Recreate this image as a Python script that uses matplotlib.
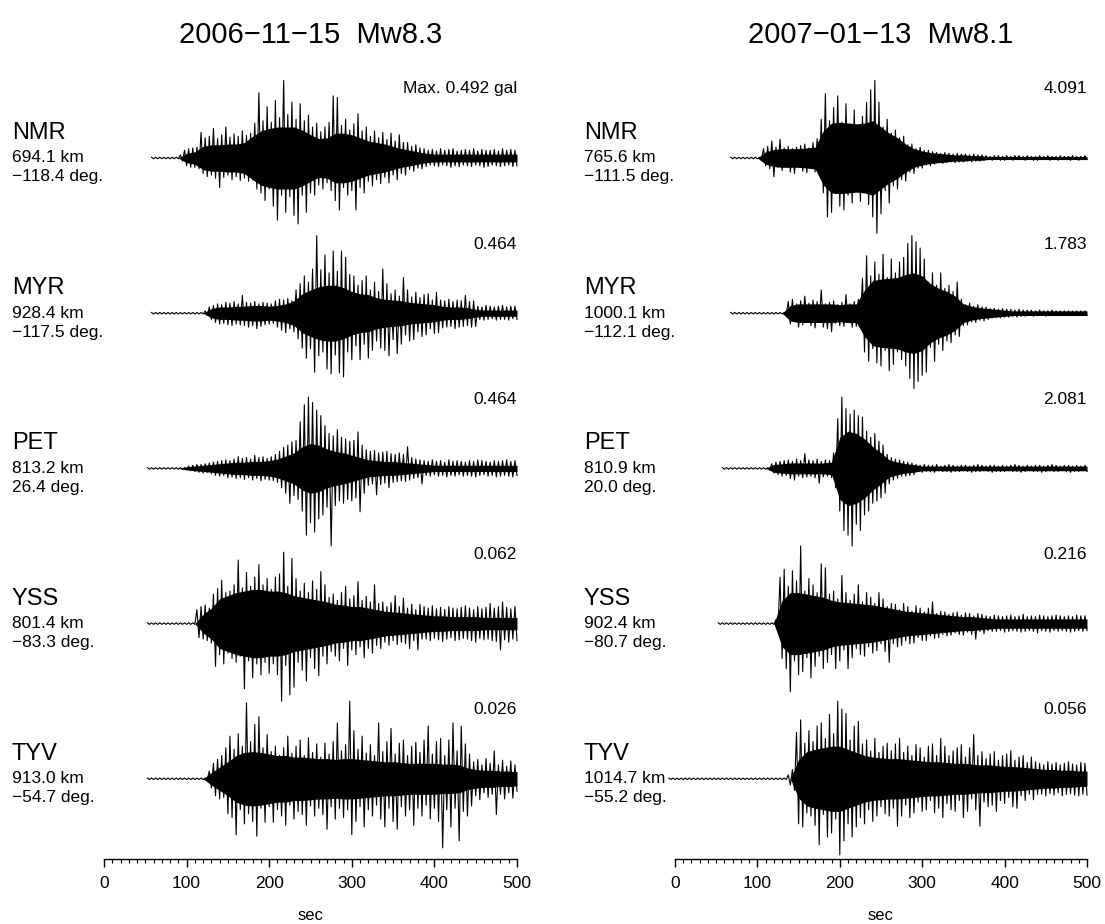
import numpy as np
import matplotlib
matplotlib.use("Agg")
import matplotlib.pyplot as plt

plt.rcParams['font.family'] = ['Liberation Sans', 'DejaVu Sans']

# ---------------------------------------------------------------------------
# Events and stations
# ---------------------------------------------------------------------------
event_titles = ["2006\u221211\u221215  Mw8.3", "2007\u221201\u221213  Mw8.1"]
stations = ["NMR", "MYR", "PET", "YSS", "TYV"]

dist_2006 = ["694.1 km", "928.4 km", "813.2 km", "801.4 km", "913.0 km"]
azim_2006 = ["\u2212118.4 deg.", "\u2212117.5 deg.", "26.4 deg.", "\u221283.3 deg.", "\u221254.7 deg."]
peak_2006 = [0.492, 0.464, 0.464, 0.062, 0.026]          # gal
start_2006 = [57.5, 57.5, 52.5, 52.5, 52.5]               # s, first sample

dist_2007 = ["765.6 km", "1000.1 km", "810.9 km", "902.4 km", "1014.7 km"]
azim_2007 = ["\u2212111.5 deg.", "\u2212112.1 deg.", "20.0 deg.", "\u221280.7 deg.", "\u221255.2 deg."]
peak_2007 = [4.091, 1.783, 2.081, 0.216, 0.056]           # gal
start_2007 = [67.5, 67.5, 57.5, 52.5, -7.5]

# Peak amplitudes (percent of station maximum) every 5 s:
# positive swings at t0 + 5 i, negative swings at t0 + 5 i + 2.5
nmr06_up = [1, 1, 1, 1, 1, 1, 1, 4, 10, 12, 13, 14,
            33, 26, 28, 38, 25, 30, 40, 27, 31, 28, 35, 29, 32,
            45, 84, 48, 66, 46, 74, 52, 100, 56, 72, 50, 70, 48, 55, 40, 45, 34, 40, 46, 80,
            78, 42, 50, 36, 44, 57, 35, 40, 28, 35, 26, 33, 24, 32, 22, 30, 20, 20, 15, 17, 13,
            12, 10, 11, 9, 12, 10, 11, 12, 9, 10, 11, 10, 12, 9, 11, 10, 10, 11, 9, 12, 10, 11, 10]
nmr06_dn = [1, 1, 1, 1, 1, 1, 1, 4, 10, 12, 12, 14,
            20, 24, 22, 26, 38, 25, 22, 28, 24, 29, 26, 30, 28,
            40, 45, 55, 40, 62, 80, 48, 70, 50, 74, 85, 48, 70, 45, 48, 35, 40, 32, 42, 55,
            67, 38, 48, 42, 67, 38, 45, 30, 36, 28, 33, 25, 32, 22, 28, 20, 22, 15, 17, 13, 14,
            11, 9, 10, 11, 9, 10, 12, 10, 11, 9, 10, 11, 9, 10, 12, 11, 9, 10, 11, 10, 9, 11, 10]

myr06_up = [1, 1, 1, 1, 1, 1, 1, 1, 1, 1, 1, 1, 1, 3, 8,
            10, 12, 11, 14, 13, 15, 12, 23, 14, 13, 15, 12, 14, 13, 12, 16, 18, 17, 19, 16,
            30, 38, 48, 40, 57, 100, 56, 75, 52, 80, 54, 80, 72, 50, 48, 36, 42, 48, 30, 40,
            28, 57, 38, 25, 30, 22, 46, 30, 21, 27, 20, 24, 25, 17, 27,
            17, 16, 18, 15, 17, 16, 23, 15, 16, 9, 8, 10, 9, 8, 9, 10, 8, 9, 9]
myr06_dn = [1, 1, 1, 1, 1, 1, 1, 1, 1, 1, 1, 1, 1, 3, 8,
            12, 14, 13, 15, 16, 14, 15, 16, 18, 16, 20, 17, 15, 14, 13, 18, 22, 25, 20, 24,
            33, 45, 58, 46, 76, 55, 50, 72, 78, 54, 77, 82, 50, 60, 42, 60, 40, 58, 48, 36,
            45, 48, 55, 34, 52, 40, 28, 36, 34, 24, 30, 28, 20, 26, 25,
            19, 18, 17, 20, 18, 17, 16, 18, 17, 8, 9, 8, 7, 9, 8, 8, 9, 7, 8]

pet06_up = [1, 1, 1, 1, 1, 1, 1, 1, 1, 1, 3, 4, 5, 5, 6, 7, 8, 9, 10, 11, 10, 12, 15,
            13, 14, 12, 17, 14, 15, 13,
            15, 18, 22, 27, 30, 34, 36, 60, 82, 92, 85, 75, 68, 55, 45, 42, 50, 40, 38, 35,
            36, 47, 30, 24, 22, 23, 20, 21, 22, 19, 18, 20, 18, 28, 14, 12, 11,
            10, 9, 11, 9, 10, 8, 11, 9, 10, 9, 8, 10, 9, 11, 10, 9, 8, 10, 9, 10, 11, 9, 10]
pet06_dn = [1, 1, 1, 1, 1, 1, 1, 1, 1, 1, 3, 4, 5, 6, 5, 7, 9, 10, 9, 12, 11, 13, 12,
            14, 12, 15, 13, 16, 14, 15,
            16, 18, 25, 32, 45, 35, 40, 55, 86, 70, 82, 65, 60, 50, 100, 48, 42, 45, 40, 42,
            38, 56, 32, 22, 20, 34, 21, 19, 25, 18, 17, 16, 17, 15, 13, 12, 20,
            9, 10, 8, 10, 9, 11, 9, 10, 8, 10, 9, 10, 11, 9, 8, 10, 9, 11, 10, 9, 10, 11, 9]

yss06_up = [1, 1, 1, 1, 1, 1, 1, 1, 1, 1, 1, 1,
            18, 22, 24, 20, 38, 45, 56, 40, 42, 50, 82, 46, 66, 48, 60, 76, 50, 58, 44, 60,
            64, 92, 48, 84, 58, 42, 52, 40, 55, 44, 67, 50, 34, 38, 30, 40, 48, 32, 36, 54,
            30, 35, 28, 50, 26, 28, 22, 27, 36, 22, 33, 20, 25, 18, 25,
            22, 20, 23, 19, 21, 18, 22, 20, 19, 21, 23, 20, 18, 22, 19, 21, 26, 20, 22, 28, 21, 19, 22]
yss06_dn = [1, 1, 1, 1, 1, 1, 1, 1, 1, 1, 1, 1,
            18, 20, 22, 25, 55, 40, 52, 38, 45, 50, 42, 84, 48, 70, 52, 66, 50, 64, 52, 66,
            100, 54, 92, 82, 50, 60, 74, 44, 58, 67, 42, 52, 36, 42, 48, 32, 54, 34, 40, 30,
            44, 32, 38, 28, 32, 24, 28, 22, 27, 24, 26, 32, 22, 34, 20,
            20, 22, 19, 21, 23, 20, 18, 22, 21, 19, 20, 22, 24, 19, 21, 20, 22, 23, 34, 21, 24, 20, 22]

tyv06_up = [1, 1, 1, 1, 1, 1, 1, 1, 1, 1, 1, 1, 1, 1, 1,
            10, 20, 25, 30, 40, 55, 38, 58, 42, 98, 48, 70, 80, 40, 57, 35, 42, 30, 40, 55,
            33, 42, 50, 30, 53, 34, 45, 28, 46, 32, 48, 72, 36, 44, 100, 62, 38, 55, 33, 44,
            30, 72, 35, 48, 65, 32, 46, 50, 30, 42, 47, 34, 50, 68, 32, 48, 52, 30, 50, 72,
            36, 68, 45, 32, 22, 25, 18, 26, 20, 36, 18, 24, 16, 23, 18]
tyv06_dn = [1, 1, 1, 1, 1, 1, 1, 1, 1, 1, 1, 1, 1, 1, 1,
            12, 22, 26, 24, 45, 50, 72, 40, 58, 45, 55, 74, 38, 56, 36, 56, 40, 48, 60, 34,
            52, 42, 46, 60, 35, 48, 38, 46, 65, 36, 52, 38, 50, 40, 72, 55, 36, 62, 40, 48,
            34, 52, 62, 38, 55, 65, 36, 48, 40, 60, 38, 48, 34, 52, 38, 55, 89, 40, 62, 38,
            80, 42, 48, 35, 22, 27, 18, 24, 20, 46, 20, 26, 18, 25, 16]

nmr07_up = [1, 1, 1, 1, 1, 1, 1, 1,
            12, 15, 22, 14, 24, 13, 15, 12, 14, 16, 18, 13, 20, 25, 50, 83, 48, 65, 80, 46,
            70, 44, 62, 40, 54, 72, 88, 100, 72, 40, 50, 32, 36, 26, 28, 17, 18, 12, 14, 10, 10, 8,
            7, 6, 7, 6, 5, 6, 5, 5, 4, 5, 4, 4,
            3, 2, 3, 3, 2, 3, 2, 3, 3, 2, 3, 2, 2, 3, 2, 3, 2, 2, 3, 2, 2, 3, 2, 2, 3]
nmr07_dn = [1, 1, 1, 1, 1, 1, 1, 1,
            10, 14, 24, 12, 16, 11, 18, 20, 12, 17, 19, 13, 18, 22, 45, 76, 70, 46, 62, 67,
            48, 58, 42, 56, 40, 60, 76, 97, 72, 42, 58, 36, 40, 28, 30, 18, 20, 13, 13, 9, 10, 8,
            6, 7, 6, 5, 6, 5, 5, 4, 5, 4, 4, 3,
            2, 3, 2, 3, 3, 2, 3, 2, 2, 3, 2, 3, 3, 2, 2, 3, 2, 3, 2, 2, 3, 2, 3, 2, 2]

myr07_up = [1, 1, 1, 1, 1, 1, 1, 1, 1, 1, 1, 1, 1, 1,
            15, 18, 12, 16, 22, 13, 17, 15, 30, 12, 14, 16, 11, 14, 24, 12, 15, 18,
            45, 74, 48, 66, 50, 76, 46, 70, 52, 66, 72, 90, 100, 92, 84, 70, 40, 52, 36, 52,
            32, 36, 28, 40, 18, 11, 13, 9, 11, 8, 8,
            6, 6, 5, 6, 5, 5, 4, 5, 4, 4, 4, 3, 4, 3, 3, 4, 3, 3, 3, 3, 3, 3, 3, 3]
myr07_dn = [1, 1, 1, 1, 1, 1, 1, 1, 1, 1, 1, 1, 1, 1,
            14, 11, 18, 15, 12, 16, 19, 12, 18, 20, 24, 13, 16, 17, 11, 18, 17, 16,
            50, 62, 46, 64, 68, 48, 74, 66, 50, 60, 68, 84, 97, 88, 80, 76, 44, 62, 40, 48,
            36, 38, 28, 30, 16, 15, 11, 12, 9, 10, 8,
            6, 5, 6, 5, 5, 4, 5, 4, 4, 3, 4, 3, 3, 4, 3, 3, 3, 3, 3, 3, 3, 3, 3, 3]

pet07_up = [1, 1, 1, 1, 1, 1, 1, 1, 1, 1, 1, 1,
            6, 8, 9, 10, 11, 9, 12, 10, 19, 11, 10, 12, 9, 11, 10, 20, 64, 92, 77, 70, 75,
            68, 66, 48, 40, 45, 35, 30, 18, 14, 12, 11, 9, 8, 7,
            5, 4, 5, 4, 4, 5, 3, 4, 5, 4, 3, 4, 4, 3, 4, 5, 4, 3, 4, 4, 3, 4, 3, 4, 5, 4,
            3, 4, 3, 4, 4, 3, 4, 5, 4, 3, 4, 4, 3, 4, 3, 4]
pet07_dn = [1, 1, 1, 1, 1, 1, 1, 1, 1, 1, 1, 1,
            6, 8, 10, 9, 13, 15, 10, 12, 11, 10, 12, 19, 11, 10, 12, 25, 55, 80, 86, 100, 72,
            80, 60, 55, 45, 42, 38, 32, 20, 15, 13, 10, 10, 9, 8,
            4, 5, 4, 4, 5, 3, 4, 4, 5, 4, 4, 3, 4, 5, 4, 4, 3, 4, 5, 4, 4, 4, 3, 4, 4, 5,
            4, 3, 4, 4, 5, 4, 3, 4, 4, 3, 4, 5, 4, 4, 3, 4]

yss07_up = [1, 1, 1, 1, 1, 1, 1, 1, 1, 1, 1, 1, 1, 1,
            5, 60, 70, 48, 68, 55, 100, 42, 58, 50, 40, 77, 72, 38, 42, 32, 62, 40, 30, 38,
            50, 28, 40, 34, 26, 40, 32, 22, 26, 25, 18, 26, 22, 16, 23, 20, 15, 20, 28, 13,
            16, 15, 12, 14, 15, 11, 14, 13, 10, 13, 12,
            10, 9, 11, 10, 9, 10, 11, 9, 10, 12, 9, 10, 9, 11, 10, 9, 10, 11, 10, 9, 10, 9, 11, 10, 10]
yss07_dn = [1, 1, 1, 1, 1, 1, 1, 1, 1, 1, 1, 1, 1, 1,
            6, 45, 58, 88, 48, 66, 62, 44, 70, 55, 42, 58, 50, 40, 58, 48, 34, 58, 44, 32,
            40, 42, 30, 38, 35, 26, 36, 50, 26, 30, 28, 22, 26, 25, 18, 22, 22, 16, 19, 18,
            14, 16, 15, 12, 14, 15, 11, 14, 20, 10, 13,
            9, 10, 10, 9, 11, 10, 9, 10, 11, 10, 9, 10, 12, 9, 10, 11, 9, 10, 9, 10, 11, 10, 9, 10, 9]

tyv07_up = [1, 1, 1, 1, 1, 1, 1, 1, 1, 1, 1, 1, 1, 1, 1, 1, 1, 1, 1, 1, 1, 1, 1, 1, 1, 1, 1, 1, 1,
            5, 12, 60, 76, 46, 62, 48, 68, 72, 52, 83, 58, 100, 90, 84, 50, 68, 74, 45, 50,
            36, 52, 34, 42, 46, 36, 45, 52, 34, 42, 30, 44, 40, 28, 42, 45, 30, 52, 42, 30,
            36, 40, 44, 28, 40, 57, 30, 35, 26, 32, 35, 24, 30, 32, 36, 24, 28, 30, 21, 28, 22,
            20, 18, 22, 19, 21, 18, 20, 22, 19, 18, 21, 20]
tyv07_dn = [1, 1, 1, 1, 1, 1, 1, 1, 1, 1, 1, 1, 1, 1, 1, 1, 1, 1, 1, 1, 1, 1, 1, 1, 1, 1, 1, 1, 1,
            8, 15, 58, 62, 44, 48, 60, 85, 46, 75, 70, 52, 98, 80, 58, 75, 62, 50, 58, 40,
            55, 48, 36, 45, 48, 38, 61, 48, 34, 50, 44, 30, 42, 40, 28, 44, 38, 50, 32, 40,
            42, 28, 50, 42, 26, 40, 61, 30, 36, 34, 42, 28, 32, 24, 36, 38, 22, 28, 20, 27, 20,
            20, 22, 19, 21, 18, 22, 20, 19, 21, 22, 20, 21]

# Half-width of the solidly filled band (percent of station maximum),
# every 10 s from 50 s to 500 s
core_times = list(range(50, 501, 10))
nmr06_core = [0, 0, 0, 0, 0, 6, 8, 15, 17, 17, 18, 18, 20, 28, 35, 38, 40, 40, 40, 36,
              30, 25, 26, 32, 32, 30, 26, 22, 20, 18, 15, 12, 10, 8, 6,
              5, 5, 5, 5, 5, 5, 5, 5, 5, 5, 5]
myr06_core = [0, 0, 0, 0, 0, 0, 0, 0, 6, 8, 8, 9, 9, 10, 10, 9, 10, 12, 16, 25,
              30, 34, 36, 36, 33, 28, 25, 24, 20, 18, 17, 16, 14, 13, 12, 11,
              9, 8, 8, 7, 5, 4, 4, 4, 4, 4]
pet06_core = [0, 0, 0, 0, 0, 2, 3, 4, 5, 6, 7, 8, 8, 9, 9, 10, 12, 16, 20, 28,
              32, 30, 25, 22, 20, 17, 14, 11, 10, 9, 9, 8, 7, 6, 5,
              4, 4, 4, 4, 4, 4, 4, 4, 4, 4, 4]
yss06_core = [0, 0, 0, 0, 0, 0, 0, 12, 20, 32, 36, 40, 42, 44, 44, 42, 42, 40, 36, 34,
              32, 30, 28, 25, 24, 22, 22, 20, 18, 16, 15, 14, 13, 12, 11, 10,
              10, 9, 9, 9, 9, 8, 8, 8, 8, 8]
tyv06_core = [0, 0, 0, 0, 0, 0, 0, 0, 8, 15, 22, 30, 34, 35, 34, 32, 30, 30, 28, 28,
              27, 26, 26, 25, 26, 26, 25, 24, 23, 22, 22, 21, 20, 20, 20, 20,
              19, 19, 18, 14, 12, 11, 11, 10, 10, 9]
nmr07_core = [0, 0, 0, 0, 0, 0, 8, 11, 12, 12, 12, 13, 14, 35, 45, 46, 45, 44, 45, 48,
              40, 32, 26, 18, 12, 9, 7, 6, 5, 4, 4, 3, 3, 2,
              2, 2, 2, 2, 2, 2, 2, 2, 2, 2, 2, 2]
myr07_core = [0, 0, 0, 0, 0, 0, 0, 0, 0, 10, 12, 12, 12, 12, 12, 11, 12, 12, 30, 42,
              44, 45, 46, 50, 52, 48, 38, 32, 28, 22, 12, 9, 7, 6, 5, 4,
              3, 3, 3, 3, 3, 3, 3, 3, 3, 3]
pet07_core = [0, 0, 0, 0, 0, 0, 0, 5, 6, 7, 7, 7, 7, 7, 8, 40, 48, 45, 38, 28,
              20, 11, 8, 6, 5, 3, 3, 3, 3, 3, 3, 3, 3, 3, 3, 3,
              3, 3, 3, 3, 3, 3, 3, 3, 3, 3]
yss07_core = [0, 0, 0, 0, 0, 0, 0, 0, 30, 40, 40, 38, 36, 34, 30, 28, 27, 26, 25, 24,
              22, 20, 18, 16, 15, 14, 13, 12, 11, 10, 9, 9, 8, 7,
              6, 6, 6, 6, 6, 6, 6, 6, 6, 6, 6, 6]
tyv07_core = [0, 0, 0, 0, 0, 0, 0, 0, 0, 0, 25, 35, 38, 40, 42, 42, 38, 34, 30, 28,
              27, 26, 26, 25, 24, 23, 22, 22, 21, 20, 20, 19, 18, 18, 17, 16,
              16, 15, 14, 13, 12, 12, 11, 11, 10, 10]

swings_2006 = [(nmr06_up, nmr06_dn), (myr06_up, myr06_dn), (pet06_up, pet06_dn),
               (yss06_up, yss06_dn), (tyv06_up, tyv06_dn)]
swings_2007 = [(nmr07_up, nmr07_dn), (myr07_up, myr07_dn), (pet07_up, pet07_dn),
               (yss07_up, yss07_dn), (tyv07_up, tyv07_dn)]
cores_2006 = [nmr06_core, myr06_core, pet06_core, yss06_core, tyv06_core]
cores_2007 = [nmr07_core, myr07_core, pet07_core, yss07_core, tyv07_core]

xticks = [0, 100, 200, 300, 400, 500]

# ---------------------------------------------------------------------------
# Layout (pixel coordinates of a 1105 x 924 canvas)
# ---------------------------------------------------------------------------
W, H = 1105, 924
fig = plt.figure(figsize=(W / 100, H / 100), dpi=100)

def fx(px):
    return px / W

def fy(py):
    return 1 - py / H

AX_TOP, AX_BOT = 57, 859
UNIT = 77.6                      # pixels per unit of normalised amplitude
YTOP = (158 - AX_TOP) / UNIT
YBOT = -(AX_BOT - 158) / UNIT
SPACING = 2.0

panels = [
    dict(left=104, right=517, label_x=12, title=event_titles[0], dist=dist_2006,
         azim=azim_2006, peak=peak_2006, start=start_2006, swings=swings_2006,
         cores=cores_2006),
    dict(left=675, right=1087, label_x=584, title=event_titles[1], dist=dist_2007,
         azim=azim_2007, peak=peak_2007, start=start_2007, swings=swings_2007,
         cores=cores_2007),
]


def build_trace(t0, up, dn, peak):
    """Interleave positive/negative swings into one trace, in gal."""
    up = np.asarray(up, float)
    dn = np.asarray(dn, float)
    assert len(up) == len(dn)
    n = len(up)
    t = np.empty(2 * n)
    v = np.empty(2 * n)
    t[0::2] = t0 + 5.0 * np.arange(n)
    t[1::2] = t0 + 5.0 * np.arange(n) + 2.5
    v[0::2] = up / 100.0 * peak
    v[1::2] = -dn / 100.0 * peak
    return t, v


for p in panels:
    ax = fig.add_axes([fx(p['left']), fy(AX_BOT), fx(p['right'] - p['left']),
                       (AX_BOT - AX_TOP) / H])
    ax.set_xlim(0, 500)
    ax.set_ylim(YBOT, YTOP)
    for side in ('left', 'right', 'top'):
        ax.spines[side].set_visible(False)
    ax.spines['bottom'].set_linewidth(1.0)
    ax.set_yticks([])
    ax.set_xticks(xticks)
    ax.set_xticks(np.arange(0, 501, 10), minor=True)
    ax.tick_params(axis='x', which='major', length=6, width=1.0, direction='out',
                   labelsize=12.5, pad=6)
    ax.tick_params(axis='x', which='minor', length=3, width=0.8, direction='out')

    for k, (up, dn) in enumerate(p['swings']):
        base = -SPACING * k
        t, v = build_trace(p['start'][k], up, dn, p['peak'][k])
        vmax = np.abs(v).max()
        core = np.asarray(p['cores'][k], float) / 100.0
        assert len(core) == len(core_times)
        ax.fill_between(core_times, base - core, base + core, color='black', lw=0,
                        clip_on=False)
        ax.plot(t, base + v / vmax, color='black', lw=0.8, clip_on=False)

        label = f"{vmax:.3f}"
        if k == 0 and p is panels[0]:
            label = f"Max. {vmax:.3f} gal"
        ax.text(500, base + 0.89, label, ha='right', va='center', fontsize=12.5)

        base_px = 158 + UNIT * SPACING * k
        fig.text(fx(p['label_x']), fy(base_px - 25), stations[k], fontsize=17,
                 ha='left', va='center')
        fig.text(fx(p['label_x']), fy(base_px), p['dist'][k], fontsize=12.5,
                 ha='left', va='center')
        fig.text(fx(p['label_x']), fy(base_px + 19), p['azim'][k], fontsize=12.5,
                 ha='left', va='center')

    cx = (p['left'] + p['right']) / 2
    fig.text(fx(cx), fy(35), p['title'], fontsize=21, ha='center', va='center')
    fig.text(fx(cx), fy(915), "sec", fontsize=12, ha='center', va='center')

fig.savefig("out.png", dpi=100, facecolor='white')
